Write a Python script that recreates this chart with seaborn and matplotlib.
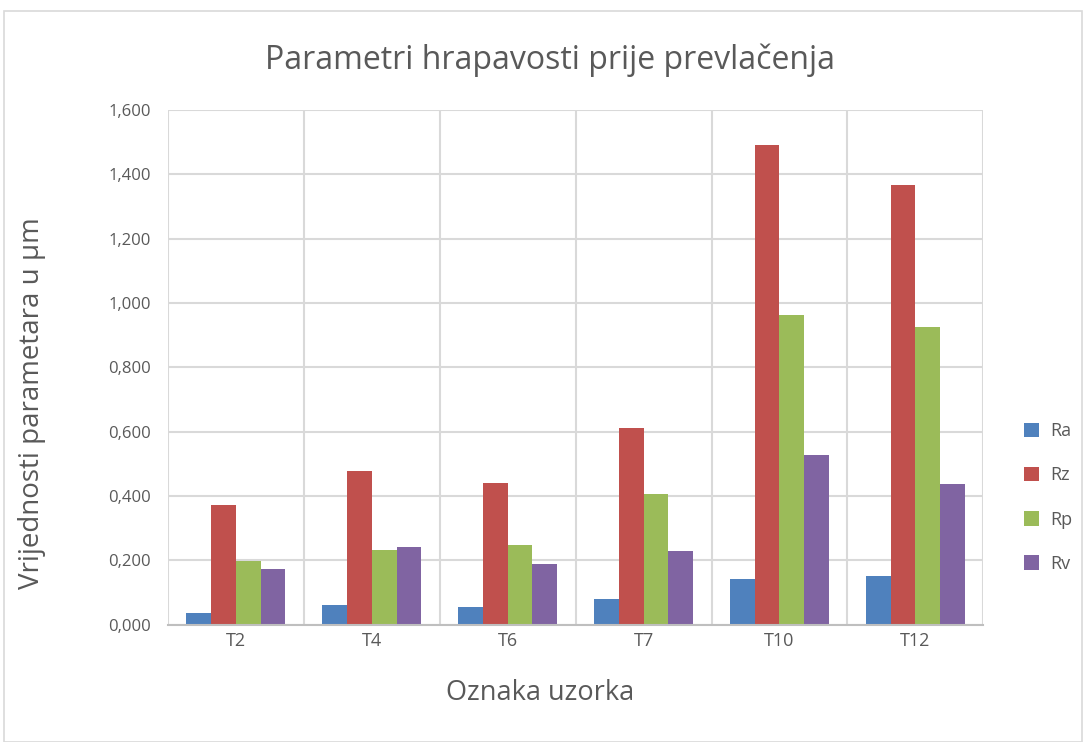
import numpy as np
import pandas as pd
import matplotlib.pyplot as plt
import seaborn as sns
from matplotlib.patches import Rectangle

# Podaci
uzorci = ["T2", "T4", "T6", "T7", "T10", "T12"]
Ra = [0.037, 0.061, 0.055, 0.080, 0.142, 0.150]
Rz = [0.372, 0.477, 0.440, 0.611, 1.492, 1.367]
Rp = [0.198, 0.231, 0.248, 0.405, 0.962, 0.924]
Rv = [0.172, 0.243, 0.189, 0.228, 0.526, 0.437]
boje = ["#4F81BD", "#C0504D", "#9BBB59", "#8064A2"]

df = pd.DataFrame({"uzorak": uzorci, "Ra": Ra, "Rz": Rz, "Rp": Rp, "Rv": Rv})
df = df.melt(id_vars="uzorak", var_name="parametar", value_name="vrijednost")

sns.set_theme(style="white")
plt.rcParams["font.family"] = ["Open Sans", "DejaVu Sans"]
siva = "#595959"

fig, ax = plt.subplots(figsize=(10.83, 7.42), dpi=100)
fig.subplots_adjust(left=0.155, right=0.908, bottom=0.158, top=0.852)

sns.barplot(data=df, x="uzorak", y="vrijednost", hue="parametar",
            palette=boje, width=0.73, linewidth=0, saturation=1, ax=ax)

ax.set_ylim(0, 1.6)
ax.set_xlim(-0.5, len(uzorci) - 0.5)
yt = np.arange(0, 1.61, 0.2)
ax.set_yticks(yt)
ax.set_yticklabels([f"{v:.3f}".replace(".", ",") for v in yt], color=siva, fontsize=12)
ax.tick_params(axis="x", colors=siva, labelsize=13, length=0, pad=5)
ax.tick_params(axis="y", length=0, pad=12)

# mreza kao u Excelu
ax.set_xticks(np.arange(-0.5, len(uzorci), 1), minor=True)
ax.grid(True, axis="y", color="#D9D9D9", linewidth=1.5)
ax.grid(True, axis="x", which="minor", color="#D9D9D9", linewidth=1.5)
ax.grid(False, axis="x", which="major")
ax.set_axisbelow(True)
for s in ["top", "right", "left"]:
    ax.spines[s].set_visible(False)
ax.spines["bottom"].set_color("#BFBFBF")
ax.spines["bottom"].set_linewidth(1.5)

fig.suptitle("Parametri hrapavosti prije prevlačenja", fontsize=23, color=siva,
             x=0.508, y=0.919, va="center")
ax.set_xlabel("Oznaka uzorka", fontsize=19.5, color=siva)
ax.xaxis.set_label_coords(0.456, -0.105)
ax.set_ylabel("Vrijednosti parametara u µm", fontsize=20, color=siva, va="center")
ax.yaxis.set_label_coords(-0.166, 0.431)

ax.legend(title=None, frameon=False, loc="center left", bbox_to_anchor=(1.03, 0.247),
          fontsize=13, labelspacing=1.45, handlelength=0.85, handleheight=0.85,
          handletextpad=0.6, labelcolor=siva)

# okvir grafikona
fig.patches.append(Rectangle((0.004, 0.0), 0.995, 0.985, transform=fig.transFigure,
                             fill=False, edgecolor="#D9D9D9", linewidth=1.2))

plt.savefig("out.png", dpi=100)
plt.close()
